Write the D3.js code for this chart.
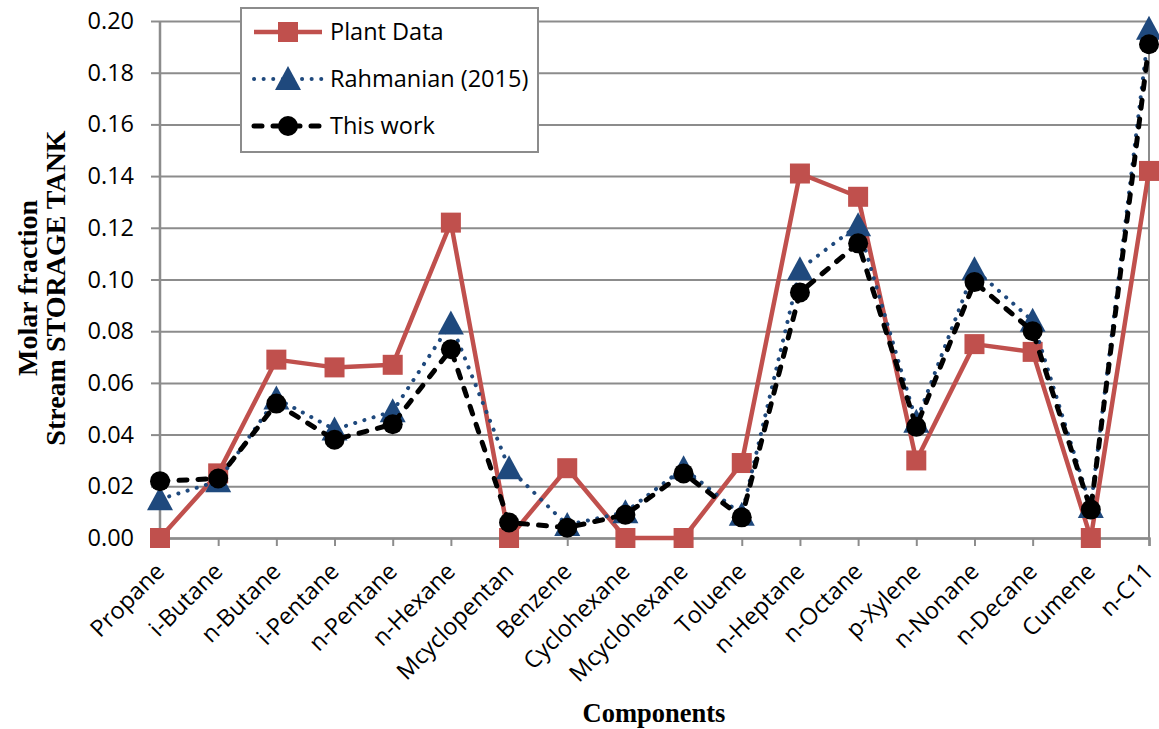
<!DOCTYPE html>
<html>
<head>
<meta charset="utf-8">
<script src="https://cdn.jsdelivr.net/npm/d3@7"></script>
<style>
  html, body { margin: 0; padding: 0; background: #fff; }
  svg { display: block; }
</style>
</head>
<body>
<svg id="chart" width="1159" height="729"></svg>
<script>
// Components along the x axis
const categories = ["Propane", "i-Butane", "n-Butane", "i-Pentane", "n-Pentane", "n-Hexane",
  "Mcyclopentan", "Benzene", "Cyclohexane", "Mcyclohexane", "Toluene", "n-Heptane",
  "n-Octane", "p-Xylene", "n-Nonane", "n-Decane", "Cumene", "n-C11"];

// Molar fractions per component
const plantData = [0.000, 0.025, 0.069, 0.066, 0.067, 0.122, 0.000, 0.027, 0.000, 0.000,
  0.029, 0.141, 0.132, 0.030, 0.075, 0.072, 0.000, 0.142];
const rahmanian = [0.015, 0.022, 0.054, 0.042, 0.049, 0.083, 0.027, 0.005, 0.010, 0.027,
  0.009, 0.104, 0.121, 0.045, 0.104, 0.084, 0.012, 0.197];
const thisWork = [0.022, 0.023, 0.052, 0.038, 0.044, 0.073, 0.006, 0.004, 0.009, 0.025,
  0.008, 0.095, 0.114, 0.043, 0.099, 0.080, 0.011, 0.191];

const yTicks = [0.00, 0.02, 0.04, 0.06, 0.08, 0.10, 0.12, 0.14, 0.16, 0.18, 0.20];
const seriesNames = ["Plant Data", "Rahmanian (2015)", "This work"];

const svg = d3.select("#chart");
const plotLeft = 160, plotRight = 1149, plotTop = 21, plotBottom = 538;

const x = d3.scalePoint().domain(categories).range([plotLeft, plotRight]);
const y = d3.scaleLinear().domain([0, 0.2]).range([plotBottom, plotTop]);

const gridColor = "#8c8c8c";
const tickFont = "'Open Sans', sans-serif";
const tickSize = 23.5;
const serif = "'Liberation Serif', 'Times New Roman', serif";

// horizontal gridlines + y axis
const yAxis = d3.axisLeft(y).tickValues(yTicks).tickFormat(d3.format(".2f"))
  .tickSize(9).tickPadding(17);
const gy = svg.append("g").attr("transform", `translate(${plotLeft},0)`).call(yAxis);
gy.select(".domain").remove();
gy.selectAll(".tick line").attr("stroke", gridColor).attr("stroke-width", 2)
  .attr("x2", -9).clone().attr("x1", 0).attr("x2", plotRight - plotLeft);
gy.selectAll(".tick text").attr("font-family", tickFont).attr("font-size", tickSize)
  .attr("fill", "#000");

// plot frame (left axis line and right edge)
svg.append("line").attr("x1", plotLeft).attr("x2", plotLeft).attr("y1", plotTop).attr("y2", plotBottom)
  .attr("stroke", gridColor).attr("stroke-width", 2.5);
svg.append("line").attr("x1", plotRight).attr("x2", plotRight).attr("y1", plotTop).attr("y2", plotBottom)
  .attr("stroke", gridColor).attr("stroke-width", 2);

// x axis
const xAxis = d3.axisBottom(x).tickSize(8).tickFormat(() => "");
const gx = svg.append("g").attr("transform", `translate(0,${plotBottom})`).call(xAxis);
gx.select(".domain").attr("stroke", gridColor).attr("stroke-width", 2.5);
gx.selectAll(".tick line").attr("stroke", gridColor).attr("stroke-width", 2);

// rotated category labels
svg.append("g").selectAll("text").data(categories).join("text")
  .attr("transform", d => `translate(${x(d)},${plotBottom + 29}) rotate(-45)`)
  .attr("text-anchor", "end")
  .attr("dy", "0.35em")
  .attr("font-family", tickFont).attr("font-size", tickSize)
  .text(d => d);

// axis titles
const yTitle = svg.append("text")
  .attr("transform", "translate(0,288) rotate(-90)")
  .attr("text-anchor", "middle")
  .attr("font-family", serif)
  .attr("font-weight", "bold").attr("font-size", 28);
yTitle.append("tspan").attr("x", 0).attr("y", 37).text("Molar fraction");
yTitle.append("tspan").attr("x", 0).attr("y", 65).text("Stream STORAGE TANK");

svg.append("text").attr("x", 654).attr("y", 722)
  .attr("text-anchor", "middle")
  .attr("font-family", serif)
  .attr("font-weight", "bold").attr("font-size", 26.5)
  .text("Components");

// series styling
const styles = [
  { color: "#C0504D", width: 4.5, dash: null, cap: "butt", marker: "square" },
  { color: "#1F497D", width: 4, dash: "0.1 9.5", cap: "round", marker: "triangle" },
  { color: "#000000", width: 5, dash: "8 11", cap: "round", marker: "circle" }
];
const allSeries = [plantData, rahmanian, thisWork];

function drawMarker(g, kind, color, cx, cy) {
  if (kind === "square") {
    g.append("rect").attr("x", cx - 10).attr("y", cy - 10).attr("width", 20).attr("height", 20)
      .attr("fill", color);
  } else if (kind === "triangle") {
    g.append("path").attr("d", `M${cx},${cy - 13}L${cx + 13},${cy + 11}L${cx - 13},${cy + 11}Z`)
      .attr("fill", color);
  } else {
    g.append("circle").attr("cx", cx).attr("cy", cy).attr("r", 10).attr("fill", color);
  }
}

const line = d3.line().x((d, i) => x(categories[i])).y(d => y(d));

allSeries.forEach((vals, si) => {
  const st = styles[si];
  const g = svg.append("g");
  g.append("path").datum(vals).attr("d", line)
    .attr("fill", "none").attr("stroke", st.color).attr("stroke-width", st.width)
    .attr("stroke-linecap", st.cap).attr("stroke-linejoin", "round")
    .attr("stroke-dasharray", st.dash);
  vals.forEach((v, i) => drawMarker(g, st.marker, st.color, x(categories[i]), y(v)));
});

// legend
const lg = svg.append("g");
lg.append("rect").attr("x", 241).attr("y", 8).attr("width", 297).attr("height", 144)
  .attr("fill", "#fff").attr("stroke", gridColor).attr("stroke-width", 2);
seriesNames.forEach((name, i) => {
  const st = styles[i];
  const ly = 32 + i * 47;
  lg.append("line").attr("x1", 254).attr("x2", 322).attr("y1", ly).attr("y2", ly)
    .attr("stroke", st.color).attr("stroke-width", st.width)
    .attr("stroke-linecap", st.cap).attr("stroke-dasharray", st.dash);
  drawMarker(lg, st.marker, st.color, 288, ly);
  lg.append("text").attr("x", 330).attr("y", ly).attr("dy", "0.35em")
    .attr("font-family", tickFont).attr("font-size", tickSize).text(name);
});
</script>
</body>
</html>
